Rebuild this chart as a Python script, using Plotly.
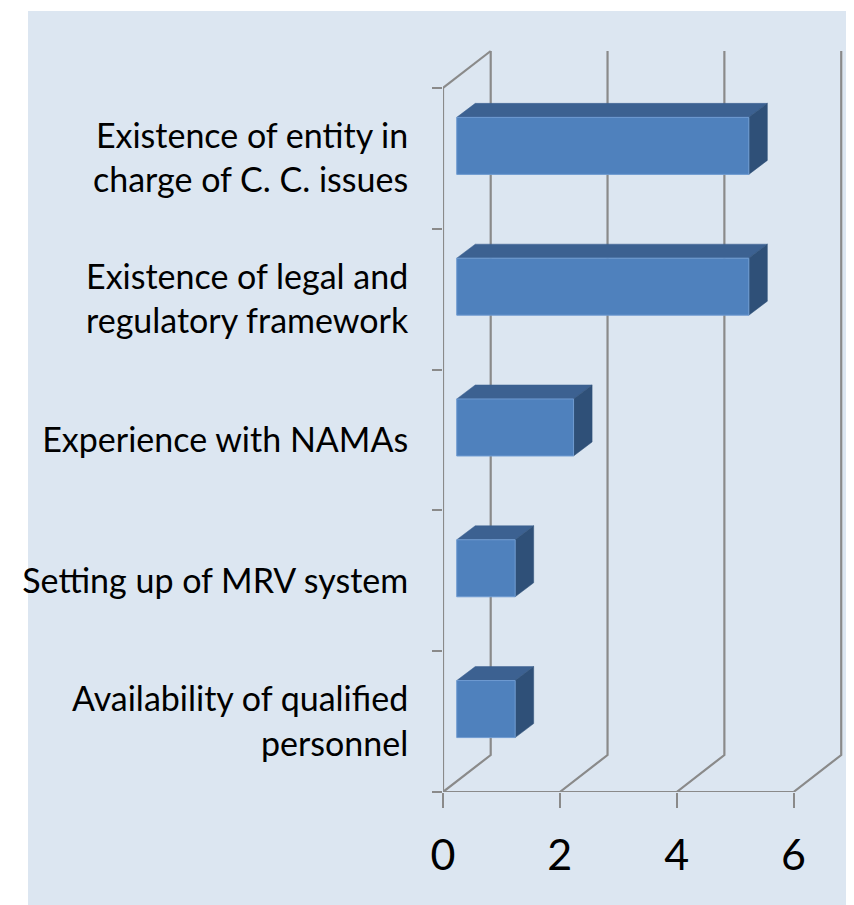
import plotly.graph_objects as go

# ---- data (bottom-to-top order) ----
categories = [
    "Availability of qualified<br>personnel",
    "Setting up of MRV system",
    "Experience with NAMAs",
    "Existence of legal and<br>regulatory framework",
    "Existence of entity in<br>charge of C. C. issues",
]
values = [1, 1, 2, 5, 5]
x_ticks = [0, 2, 4, 6]
x_max = 6

# ---- 3D style constants (in axis units) ----
PX_X = 58.42          # px per x unit
PX_Y = 140.8          # px per category band
BAR_H = 0.405         # bar thickness (band units)
FX, FY = 0.235, 0.089  # front-face offset from the front plane
DDX, DDY = 0.317, 0.0994  # bar depth
WDX, WDY = 0.8165, 0.2628  # wall depth

GRID = "#8a8a8a"
FRONT = "#4f81bd"
TOP = "#3c6191"
SIDE = "#2f5078"
BG = "#dce6f1"

n = len(categories)
centers = [i + 0.5 for i in range(n)]

fig = go.Figure()

# ---- walls / gridlines ----
gx, gy = [], []
gx += [0, 0, None, 0, x_max, None]
gy += [n, 0, None, 0, 0, None]
gx += [0, WDX, None]
gy += [n, n + WDY, None]
for t in x_ticks:
    gx += [t, t + WDX, t + WDX, None]
    gy += [0, WDY, n + WDY, None]
fig.add_trace(go.Scatter(x=gx, y=gy, mode="lines",
                         line=dict(color=GRID, width=2.2),
                         hoverinfo="skip", showlegend=False))

# ---- bars ----
fxs, fys, txs, tys, sxs, sys_ = [], [], [], [], [], []
for c, v in zip(centers, values):
    x0 = FX
    x1 = FX + v
    yb = c + FY - BAR_H / 2
    yt = c + FY + BAR_H / 2
    fxs += [x0, x1, x1, x0, x0, None]
    fys += [yb, yb, yt, yt, yb, None]
    txs += [x0, x1, x1 + DDX, x0 + DDX, x0, None]
    tys += [yt, yt, yt + DDY, yt + DDY, yt, None]
    sxs += [x1, x1 + DDX, x1 + DDX, x1, x1, None]
    sys_ += [yb, yb + DDY, yt + DDY, yt, yb, None]

fig.add_trace(go.Scatter(x=txs, y=tys, mode="lines", fill="toself",
                         fillcolor=TOP, line=dict(color=TOP, width=0.5),
                         hoverinfo="skip", showlegend=False))
fig.add_trace(go.Scatter(x=sxs, y=sys_, mode="lines", fill="toself",
                         fillcolor=SIDE, line=dict(color=SIDE, width=0.5),
                         hoverinfo="skip", showlegend=False))
fig.add_trace(go.Scatter(x=fxs, y=fys, mode="lines", fill="toself",
                         fillcolor=FRONT, line=dict(color="#6f9bd1", width=1),
                         hoverinfo="skip", showlegend=False))

# page body has an 8px margin: figure coordinates are page coordinates - 8
W, H = 846, 897
plot_left, plot_bottom = 435, 784
bg_left, bg_top = 20, 3
fig.update_layout(
    width=W, height=H,
    margin=dict(l=plot_left, r=0, t=0, b=H - plot_bottom, pad=0),
    paper_bgcolor="white",
    plot_bgcolor="rgba(0,0,0,0)",
    font=dict(family="Lato", color="black"),
    shapes=[dict(type="rect", xref="paper", yref="paper",
                 x0=-(plot_left - bg_left) / (W - plot_left), x1=1,
                 y0=-(H - plot_bottom) / plot_bottom, y1=1 - bg_top / plot_bottom,
                 fillcolor=BG, line=dict(width=0), layer="below")],
    xaxis=dict(range=[0, (W - plot_left) / PX_X], tickvals=x_ticks,
               ticktext=[str(t) for t in x_ticks],
               ticks="outside", ticklen=15, tickwidth=2, tickcolor=GRID,
               showgrid=False, zeroline=False, showline=False,
               tickfont=dict(size=43, color="black"),
               ticklabelstandoff=10, fixedrange=True),
    yaxis=dict(range=[0, plot_bottom / PX_Y], tickvals=centers,
               ticktext=categories, ticks="outside", ticklen=10,
               tickcolor="rgba(0,0,0,0)",
               minor=dict(tickvals=list(range(n + 1)), ticks="outside",
                          ticklen=10, tickwidth=2, tickcolor=GRID),
               showgrid=False, zeroline=False, showline=False,
               tickfont=dict(size=34, color="black"),
               ticklabelstandoff=17, fixedrange=True),
)

fig.write_html("out.html")
